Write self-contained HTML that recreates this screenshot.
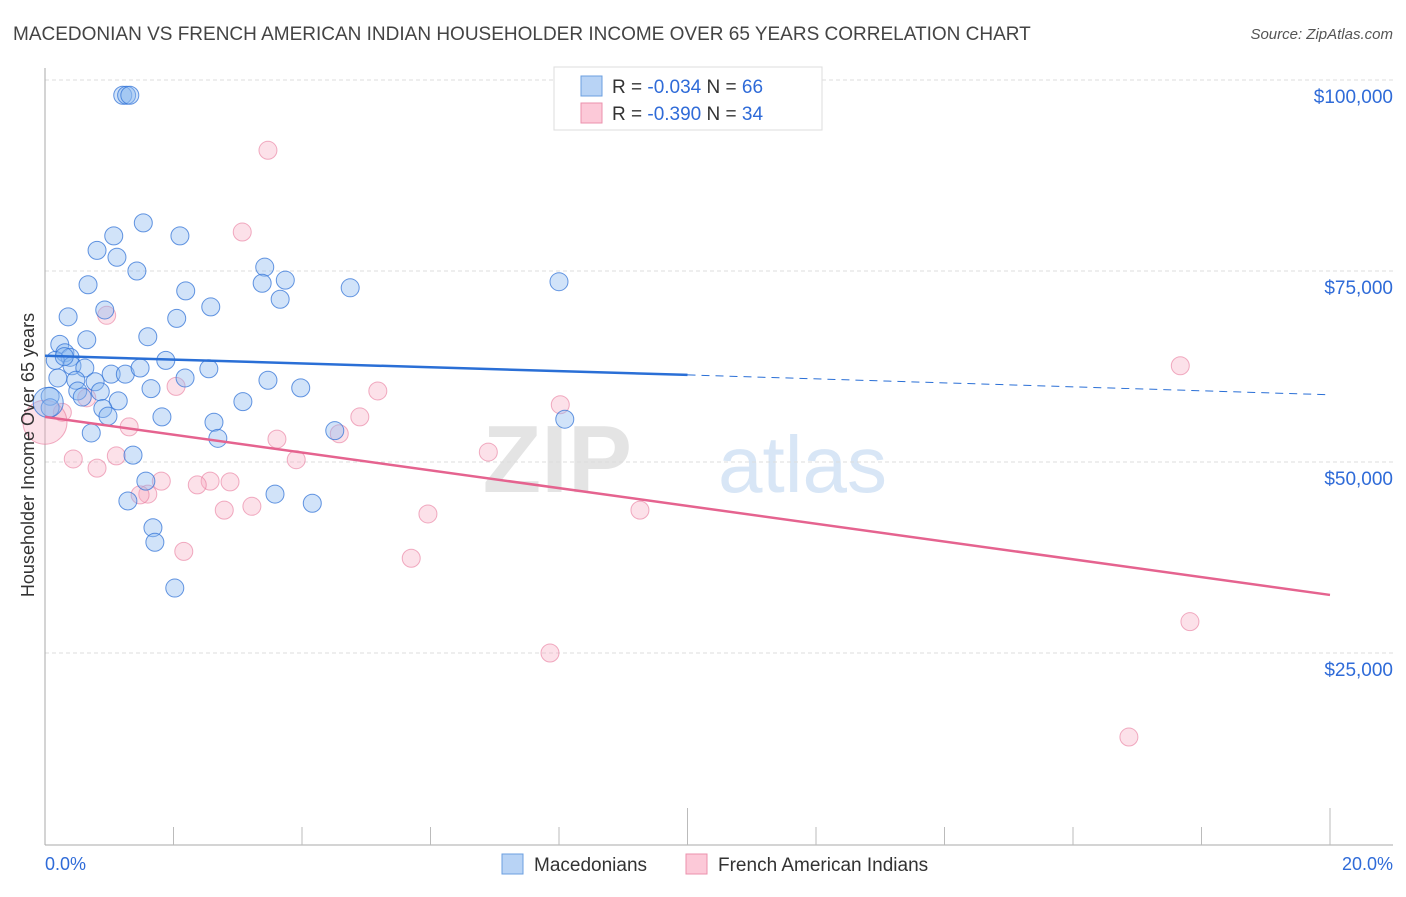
<!DOCTYPE html>
<html><head><meta charset="utf-8"><style>
body{margin:0;background:#fff;font-family:"Liberation Sans",sans-serif;}
svg text{font-family:"Liberation Sans",sans-serif;}
</style></head><body>
<svg id="chart" width="1406" height="892" viewBox="0 0 1406 892" xmlns="http://www.w3.org/2000/svg">
<text x="13" y="40" font-size="19" fill="#444">MACEDONIAN VS FRENCH AMERICAN INDIAN HOUSEHOLDER INCOME OVER 65 YEARS CORRELATION CHART</text>
<text x="1393" y="39" font-size="15" fill="#555" font-style="italic" text-anchor="end">Source: ZipAtlas.com</text>
<g>
<text x="632" y="492" font-size="96" fill="#e4e4e4" font-family="Liberation Serif" text-anchor="end" font-weight="bold">ZIP</text>
<text x="718" y="492" font-size="80" fill="#d8e6f6">atlas</text>
</g>
<g id="grid"></g>
<g id="axes"></g>
<g id="marks"></g>
<text transform="translate(34,455) rotate(-90)" font-size="18" fill="#333" text-anchor="middle">Householder Income Over 65 years</text>
<g>
<rect x="554" y="67" width="268" height="63" fill="#fff" stroke="#ddd"/>
<rect x="581" y="76" width="21" height="20" fill="#b8d3f5" stroke="#6b9fe0"/>
<rect x="581" y="103" width="21" height="20" fill="#fcc9d8" stroke="#eb91ad"/>
<text x="612" y="93" font-size="19" fill="#333">R = <tspan fill="#2f6bd8">-0.034</tspan>   N = <tspan fill="#2f6bd8">66</tspan></text>
<text x="612" y="120" font-size="19" fill="#333">R = <tspan fill="#2f6bd8">-0.390</tspan>   N = <tspan fill="#2f6bd8">34</tspan></text>
</g>
<g>
<rect x="502" y="854" width="21" height="20" fill="#b8d3f5" stroke="#6b9fe0"/>
<text x="534" y="871" font-size="19" fill="#333">Macedonians</text>
<rect x="686" y="854" width="21" height="20" fill="#fcc9d8" stroke="#eb91ad"/>
<text x="718" y="871" font-size="19" fill="#333">French American Indians</text>
</g>
</svg>
<script>
const yTicks=[100000,75000,50000,25000];
const yTickLabels=["$100,000","$75,000","$50,000","$25,000"];
const xTickLabels=["0.0%","20.0%"];
const blueX=[1.21,1.27,1.32,1.53,2.10,1.07,0.81,1.12,1.43,3.42,3.74,3.38,4.75,8.00,0.67,2.19,3.66,2.58,0.93,0.36,2.05,1.60,0.65,0.23,0.31,0.39,0.16,1.88,0.42,0.62,1.03,1.25,1.48,0.20,0.48,0.78,2.55,3.47,2.18,1.65,3.98,0.86,0.51,0.58,0.08,1.14,3.08,0.08,0.90,0.98,1.82,2.63,8.09,0.72,4.51,2.69,1.37,1.57,3.58,1.29,4.16,1.68,1.71,2.02,0.05,0.30];
const blueY=[98.0,98.0,98.0,81.3,79.6,79.6,77.7,76.8,75.0,75.5,73.8,73.4,72.8,73.6,73.2,72.4,71.3,70.3,69.9,69.0,68.8,66.4,66.0,65.4,64.3,63.7,63.3,63.3,62.6,62.3,61.5,61.5,62.3,61.0,60.7,60.5,62.2,60.7,61.0,59.6,59.7,59.2,59.3,58.5,58.6,58.0,57.9,57.1,57.0,56.0,55.9,55.2,55.6,53.8,54.1,53.1,50.9,47.5,45.8,44.9,44.6,41.4,39.5,33.5,57.8,63.8];
const blueR=[9,9,9,9,9,9,9,9,9,9,9,9,9,9,9,9,9,9,9,9,9,9,9,9,9,9,9,9,9,9,9,9,9,9,9,9,9,9,9,9,9,9,9,9,9,9,9,9,9,9,9,9,9,9,9,9,9,9,9,9,9,9,9,9,15,9];
const pinkX=[3.47,3.07,0.96,17.67,2.04,5.18,0.65,8.02,0.27,4.90,1.31,4.58,3.61,6.90,3.91,0.44,1.11,0.81,1.81,2.57,2.88,2.37,1.60,1.48,2.79,3.22,5.96,9.26,2.16,5.70,7.86,17.82,16.87,0.0];
const pinkY=[90.8,80.1,69.2,62.6,59.9,59.3,58.4,57.5,56.5,55.9,54.6,53.7,53.0,51.3,50.3,50.4,50.8,49.2,47.5,47.5,47.4,47.0,45.8,45.7,43.7,44.2,43.2,43.7,38.3,37.4,25.0,29.1,14.0,55.2];
const pinkR=[9,9,9,9,9,9,9,9,9,9,9,9,9,9,9,9,9,9,9,9,9,9,9,9,9,9,9,9,9,9,9,9,9,22];
const blueTrend=[[0,63.9],[10,61.4],[20,58.8]];
const pinkTrend=[[0,55.9],[20,32.6]];
const NS="http://www.w3.org/2000/svg";
const xs=v=>45+v*64.25;
const ys=v=>80+(100-v)*7.64;
const ysD=v=>ys(v/1000);
function mk(tag,attrs,parent){const e=document.createElementNS(NS,tag);for(const k in attrs)e.setAttribute(k,attrs[k]);parent.appendChild(e);return e;}
const grid=document.getElementById('grid'),axes=document.getElementById('axes'),marks=document.getElementById('marks');
yTicks.forEach((t,i)=>{
  const l=mk('line',{x1:45,x2:1393,y1:ysD(t),y2:ysD(t),stroke:'#ddd','stroke-dasharray':'4,3'},grid);
  
  
  const tx=mk('text',{x:1393,y:ysD(t)+23,'font-size':19,fill:'#2f6bd8','text-anchor':'end'},axes);
  tx.textContent=yTickLabels[i];
  
  
});
const ax=mk('line',{x1:45,x2:45,y1:68,y2:845,stroke:'#aaa'},axes);


const bx=mk('line',{x1:45,x2:1393,y1:845,y2:845,stroke:'#aaa'},axes);


for(let p=2;p<=20;p+=2){
  const tk=mk('line',{x1:xs(p),x2:xs(p),y1:(p===10||p===20)?808:827,y2:845,stroke:'#bbb'},axes);
  
  
}
const xl0=mk('text',{x:45,y:870,'font-size':18,fill:'#2f6bd8'},axes);
xl0.textContent=xTickLabels[0];


const xl1=mk('text',{x:1393,y:870,'font-size':18,fill:'#2f6bd8','text-anchor':'end'},axes);
xl1.textContent=xTickLabels[1];


pinkX.forEach((x,i)=>{
  const c=mk('circle',{cx:xs(x),cy:ys(pinkY[i]),r:pinkR[i],fill:'rgba(247,168,193,0.35)',stroke:'rgba(232,120,155,0.6)','stroke-width':1},marks);
  
  
});
blueX.forEach((x,i)=>{
  const c=mk('circle',{cx:xs(x),cy:ys(blueY[i]),r:blueR[i],fill:'rgba(140,185,240,0.4)',stroke:'rgba(50,115,215,0.75)','stroke-width':1},marks);
  
  
});
const b1=mk('line',{x1:xs(blueTrend[0][0]),y1:ys(blueTrend[0][1]),x2:xs(blueTrend[1][0]),y2:ys(blueTrend[1][1]),stroke:'#2a6fd6','stroke-width':2.5},marks);


const b2=mk('line',{x1:xs(blueTrend[1][0]),y1:ys(blueTrend[1][1]),x2:xs(blueTrend[2][0]),y2:ys(blueTrend[2][1]),stroke:'#2a6fd6','stroke-width':1,'stroke-dasharray':'8,6'},marks);


const p1=mk('line',{x1:xs(pinkTrend[0][0]),y1:ys(pinkTrend[0][1]),x2:xs(pinkTrend[1][0]),y2:ys(pinkTrend[1][1]),stroke:'#e5638f','stroke-width':2.5},marks);


</script>
</body></html>
